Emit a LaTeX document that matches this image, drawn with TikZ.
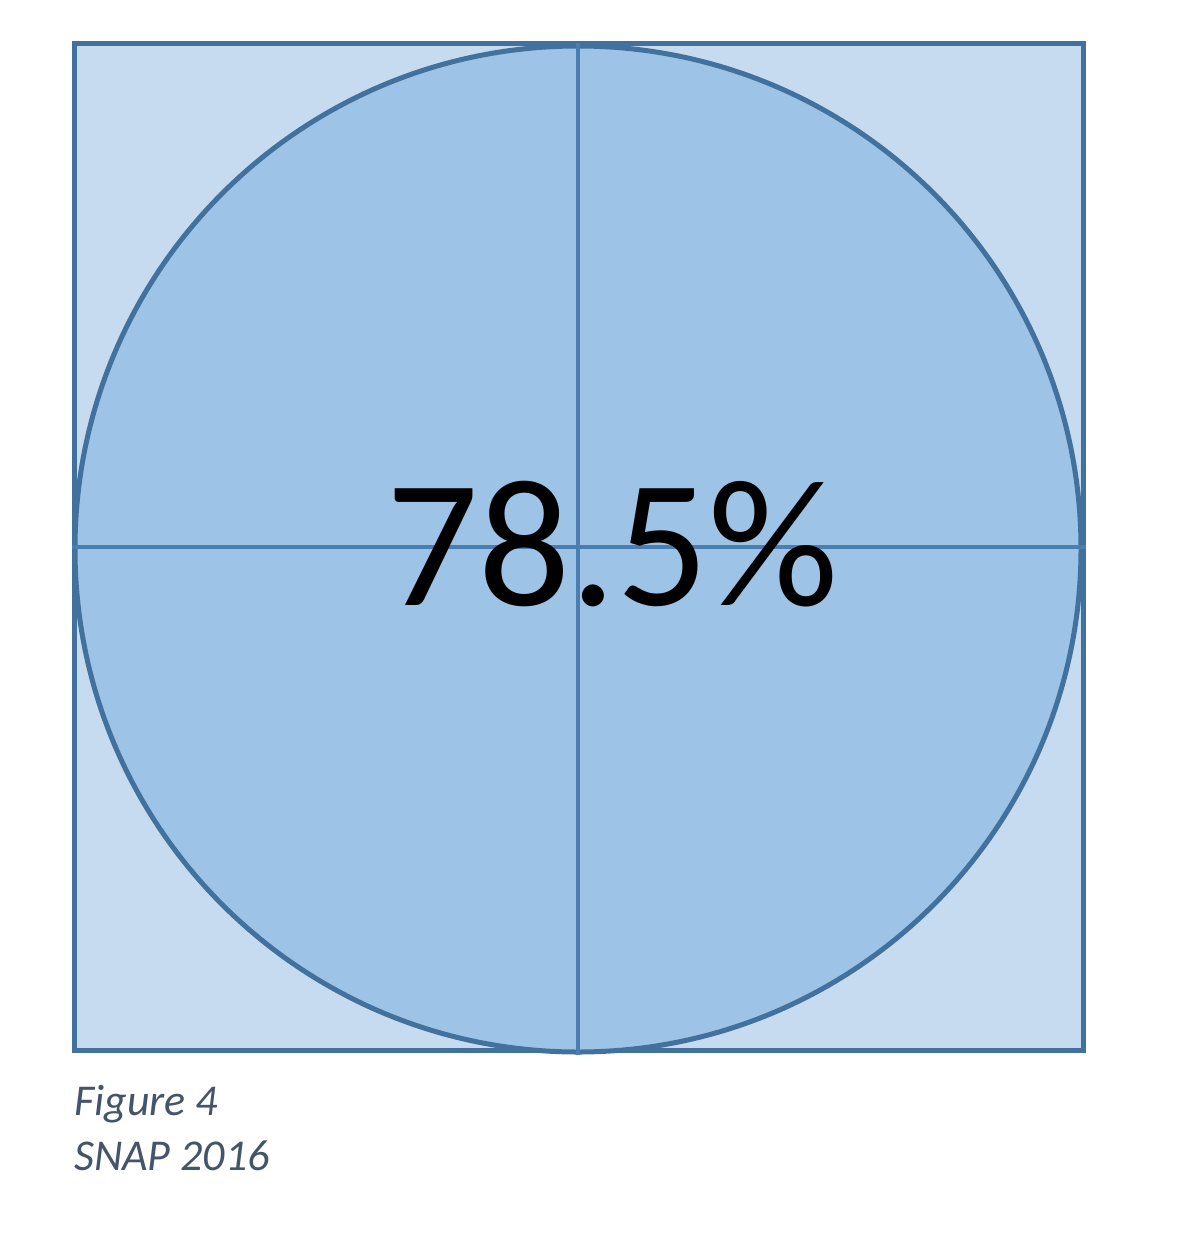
\documentclass[tikz,border=0pt]{standalone}
\usepackage{fontspec}
\setmainfont{Carlito}
\definecolor{sqfill}{HTML}{C6DBEF}
\definecolor{cfill}{HTML}{9DC3E6}
\definecolor{edge}{HTML}{41719C}
\definecolor{crossc}{HTML}{4A7DB0}
\definecolor{capc}{HTML}{44546A}
\tikzset{
  sqbox/.style={draw=edge, fill=sqfill, line width=5pt, minimum width=1009pt, minimum height=1006pt, inner sep=0pt},
  circ/.style={draw=edge, fill=cfill, line width=5pt, circle, minimum size=1006pt, inner sep=0pt},
  crossline/.style={draw=crossc, line width=4.5pt},
  bigtxt/.style={font=\fontsize{182}{182}\selectfont, inner sep=0pt, anchor=base west},
  captxt/.style={font=\fontsize{44}{44}\selectfont\itshape, text=capc, inner sep=0pt, anchor=base west}
}
\begin{document}
\begin{tikzpicture}[x=1pt,y=-1pt]
\useasboundingbox (0,0) rectangle (1196,1236);
\node[sqbox] (sq) at (578.5,547) {};
\node[circ] (c) at (578,549) {};
\draw[crossline] (c.north) -- (c.south);
\draw[crossline] (sq.west) -- (sq.east);
\node[bigtxt] (pct) at (386,605) {78.5\%};
\node[captxt] (cap1) at (74,1115) {Figure 4};
\node[captxt] (cap2) at (74,1170) {SNAP 2016};
\end{tikzpicture}
\end{document}
